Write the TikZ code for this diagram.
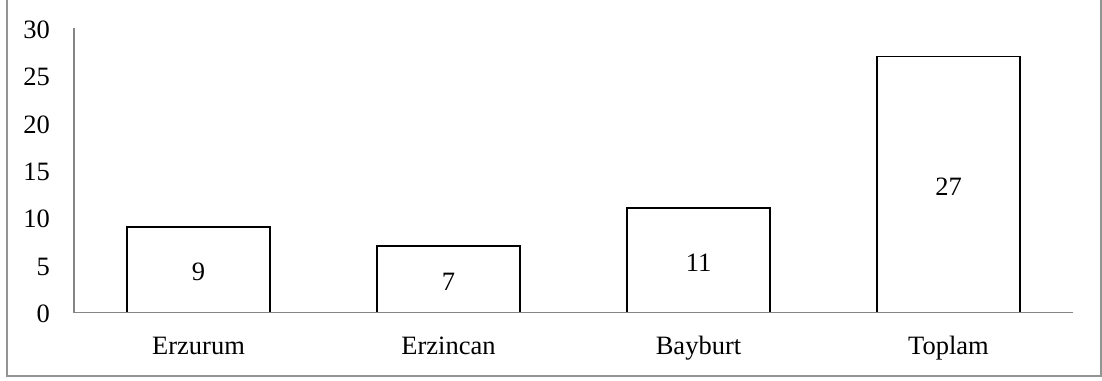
\documentclass[tikz,border=0pt]{standalone}
\usepackage{fontspec}
\setmainfont{Liberation Serif}
\begin{document}
\begin{tikzpicture}[x=1pt,y=-1pt,
  lbl/.style={inner sep=0pt,font=\fontsize{26.5}{30}\selectfont},
  bar/.style={draw=black,line width=1.8pt,fill=white},
  axisline/.style={draw=black!48,line width=1.8pt},
  frameline/.style={draw=black!42,line width=1.6pt}]
\useasboundingbox (0,0) rectangle (1102,380);
\draw[frameline] (7,-5) -- (7,376) -- (1101,376) -- (1101,-5);
% axes
\coordinate (ytop) at (74,28);
\coordinate (orig) at (74,312.5);
\coordinate (xend) at (1073,312.5);
\draw[axisline] (ytop) -- (orig) -- (xend);
% y tick labels
\foreach \v in {0,5,...,30}{
  \node[lbl,anchor=east] (t\v) at (50,{312.5-\v*9.48+1.5}) {\v};
}
% bars
\foreach \i/\v/\name in {0/9/Erzurum,1/7/Erzincan,2/11/Bayburt,3/27/Toplam}{
  \pgfmathsetmacro{\cx}{198.5+250*\i}
  \pgfmathsetmacro{\top}{312.5-\v*9.48}
  \draw[bar] ({\cx-71.5},312.5) rectangle ({\cx+71.5},\top);
  \node[lbl] (v\i) at (\cx,{(312.5+\top)/2+2}) {\v};
  \node[lbl,anchor=base] (c\i) at (\cx,354) {\name};
}
\draw[axisline] (orig) -- (xend);
\end{tikzpicture}
\end{document}
